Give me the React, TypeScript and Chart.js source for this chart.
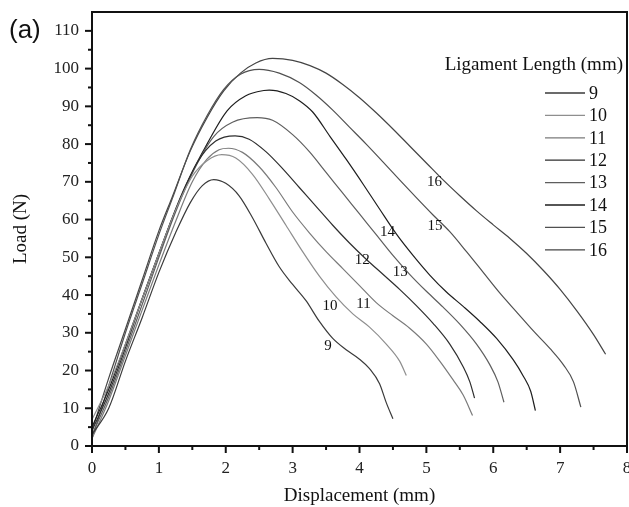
import React, { useEffect, useRef } from "react";
import { Chart, registerables } from "chart.js";

Chart.register(...registerables);

// Ligament lengths (mm)
const ligaments = ["9", "10", "11", "12", "13", "14", "15", "16"];
const lineColors = ["#3a3a3a", "#8e8e8e", "#7a7a7a", "#2e2e2e", "#5e5e5e", "#1e1e1e", "#505050", "#454545"];

// Displacement (mm) / Load (N) per ligament length
const disp9 = [0, 0.25, 0.5, 0.75, 1.0, 1.25, 1.47, 1.65, 1.82, 2.0, 2.2, 2.4, 2.6, 2.8, 3.0, 3.2, 3.4, 3.6, 3.8, 4.0, 4.15, 4.3, 4.4, 4.5];
const load9 = [3, 10, 22.5, 34, 46, 56.5, 64.5, 69, 70.6, 69.6, 66.3, 60.5, 53.8, 47.5, 42.8, 38.5, 33, 28.5, 25.5, 23, 20.5, 16.5, 11.5, 7.2];

const disp10 = [0, 0.25, 0.5, 0.75, 1.0, 1.25, 1.5, 1.72, 1.94, 2.15, 2.4, 2.65, 2.9, 3.15, 3.4, 3.65, 3.9, 4.15, 4.4, 4.6, 4.7];
const load10 = [7, 16, 27, 39, 51, 62.5, 71.5, 75.6, 77.2, 76.3, 72, 65.5, 58.5, 51.5, 45, 39.5, 35, 31.5, 27, 22.5, 18.7];

const disp11 = [0, 0.25, 0.5, 0.75, 1.0, 1.25, 1.5, 1.72, 1.9, 2.04, 2.25, 2.5, 2.75, 3.0, 3.25, 3.5, 3.75, 4.0, 4.25, 4.5, 4.75, 5.0, 5.2, 5.4, 5.55, 5.69];
const load11 = [2, 12, 24, 36, 48, 59.5, 70, 76, 78.5, 78.9, 77.8, 74, 68.5, 62, 56.5, 51.5, 47, 42.5, 38, 34.5, 31.2, 27, 22.5, 17.5, 13.5, 8.1];

const disp12 = [0, 0.25, 0.5, 0.75, 1.0, 1.25, 1.57, 1.85, 2.14, 2.35, 2.6, 2.85, 3.1, 3.35, 3.6, 3.85, 4.1, 4.35, 4.6, 4.85, 5.1, 5.35, 5.55, 5.65, 5.72];
const load12 = [4, 14, 26, 39, 51, 62.5, 75, 80.8, 82.2, 81.3, 78, 73.5, 68.5, 63.5, 58.5, 53.8, 49.5, 45.5, 41.5, 37.2, 32.5, 27, 21, 17, 12.7];

const disp13 = [0, 0.25, 0.5, 0.75, 1.0, 1.25, 1.52, 1.82, 2.1, 2.47, 2.7, 3.0, 3.25, 3.5, 3.75, 4.0, 4.25, 4.5, 4.75, 5.0, 5.25, 5.5, 5.75, 5.95, 6.07, 6.16];
const load13 = [3, 13, 25, 37.5, 50, 62, 73, 82, 85.8, 87, 86.3, 82.5, 78, 72.5, 67, 61.5, 56, 50.5, 45.5, 41, 36.8, 32.3, 27, 21.5, 17, 11.6];

const disp14 = [0, 0.25, 0.5, 0.75, 1.0, 1.2, 1.4, 1.72, 2.02, 2.3, 2.57, 2.65, 2.9, 3.1, 3.3, 3.56, 3.8, 4.05, 4.3, 4.55, 4.8, 5.05, 5.3, 5.55, 5.8, 6.05, 6.3, 6.45, 6.56, 6.63];
const load14 = [5, 15, 27, 39, 51, 60.5, 69, 80, 88.8, 92.8, 94.2, 94.3, 93.4, 91.5, 88.5, 82, 76, 69.5, 62.8, 56.2, 50.5, 45.3, 40.8, 37, 33, 28.5, 22.8, 18.5, 14.5, 9.4];

const disp15 = [0, 0.25, 0.5, 0.75, 1.0, 1.2, 1.47, 1.72, 1.97, 2.22, 2.5, 2.8, 3.1, 3.35, 3.6, 3.85, 4.1, 4.35, 4.6, 4.85, 5.1, 5.35, 5.6, 5.85, 6.1, 6.35, 6.6, 6.85, 7.05, 7.2, 7.31];
const load15 = [2, 16, 30, 43, 56, 65.5, 78.5, 87.5, 94.5, 98.5, 99.8, 98.8, 96.3, 93, 89, 84.5, 80, 75.3, 70.5, 65.8, 61.2, 56.8, 51.5, 46, 40.5, 35.5, 30.5, 25.8, 21.5, 17, 10.3];

const disp16 = [0, 0.25, 0.5, 0.75, 1.0, 1.2, 1.47, 1.72, 1.97, 2.22, 2.45, 2.7, 3.0, 3.26, 3.5, 3.75, 4.0, 4.25, 4.5, 4.75, 5.0, 5.25, 5.5, 5.75, 6.0, 6.25, 6.5, 6.75, 7.0, 7.25, 7.5, 7.68];
const load16 = [4, 18, 31, 44, 57, 66, 78.2, 87, 94.1, 98.8, 101.5, 102.7, 102.2, 100.8, 98.8, 95.8, 92.3, 88.3, 84, 79.5, 75, 70.5, 66.3, 62.3, 58.6, 55, 51, 46.5, 41.5, 35.8, 29.5, 24.3];

const dispSeries = [disp9, disp10, disp11, disp12, disp13, disp14, disp15, disp16];
const loadSeries = [load9, load10, load11, load12, load13, load14, load15, load16];

// Curve label anchor positions (data coordinates)
const labelDisp = [3.53, 3.56, 4.06, 4.04, 4.61, 4.42, 5.13, 5.12];
const labelLoad = [26.5, 37.2, 37.6, 49.2, 46.2, 56.6, 58.4, 70.0];

const xTickLabels = ["0", "1", "2", "3", "4", "5", "6", "7", "8"];

const SERIF = "'Liberation Serif', 'Times New Roman', serif";

const decorPlugin = {
  id: "decor",
  afterDraw(chart: any) {
    const ctx = chart.ctx;
    const area = chart.chartArea;
    const xs = chart.scales.x;
    const ys = chart.scales.y;
    ctx.save();
    // frame
    ctx.strokeStyle = "#111";
    ctx.lineWidth = 2;
    ctx.strokeRect(area.left, area.top, area.right - area.left, area.bottom - area.top);
    // x ticks (major + minor)
    for (let v = 0; v <= 8.0001; v += 0.5) {
      const px = xs.getPixelForValue(v);
      const major = Math.abs(v - Math.round(v)) < 1e-6;
      ctx.beginPath();
      ctx.moveTo(px, area.bottom);
      ctx.lineTo(px, area.bottom + (major ? 7 : 4));
      ctx.stroke();
    }
    for (let v = 0; v <= 110.0001; v += 5) {
      const py = ys.getPixelForValue(v);
      const major = v % 10 === 0;
      ctx.beginPath();
      ctx.moveTo(area.left, py);
      ctx.lineTo(area.left - (major ? 7 : 4), py);
      ctx.stroke();
    }
    // curve labels
    ctx.fillStyle = "#111";
    ctx.font = "15px " + SERIF;
    ctx.textAlign = "center";
    ctx.textBaseline = "middle";
    ligaments.forEach((name, i) => {
      ctx.fillText(name, xs.getPixelForValue(labelDisp[i]), ys.getPixelForValue(labelLoad[i]));
    });
    // legend
    const right = area.right;
    ctx.font = "19px " + SERIF;
    ctx.textAlign = "right";
    ctx.fillText("Ligament Length (mm)", right - 4, area.top + 53);
    ctx.font = "18px " + SERIF;
    ctx.textAlign = "left";
    ligaments.forEach((name, i) => {
      const y = area.top + 81 + i * 22.4;
      ctx.strokeStyle = lineColors[i];
      ctx.lineWidth = 1.3;
      ctx.beginPath();
      ctx.moveTo(right - 82, y);
      ctx.lineTo(right - 42, y);
      ctx.stroke();
      ctx.fillText(name, right - 38, y + 1);
    });
    // panel label
    ctx.font = "26px 'Liberation Sans', Arial, sans-serif";
    ctx.textAlign = "left";
    ctx.fillText("(a)", 9, 31);
    ctx.restore();
  },
};

export default function App() {
  const canvasRef = useRef<HTMLCanvasElement | null>(null);

  useEffect(() => {
    const canvas = canvasRef.current;
    if (!canvas) return;
    const datasets = ligaments.map((name, i) => ({
      label: name,
      data: dispSeries[i].map((d, j) => ({ x: d, y: loadSeries[i][j] })),
      showLine: true,
      borderColor: lineColors[i],
      borderWidth: 1.2,
      pointRadius: 0,
      cubicInterpolationMode: "monotone" as const,
      fill: false,
    }));
    const chart = new Chart(canvas, {
      type: "scatter",
      data: { datasets },
      options: {
        animation: false,
        responsive: false,
        maintainAspectRatio: false,
        layout: { padding: { left: 0, right: 2, top: 12, bottom: 0 } },
        plugins: { legend: { display: false }, tooltip: { enabled: false } },
        scales: {
          x: {
            type: "linear",
            min: 0,
            max: 8,
            grid: { display: false, drawTicks: false },
            border: { display: false },
            ticks: {
              stepSize: 1,
              padding: 12,
              color: "#222",
              font: { family: SERIF, size: 17 },
              callback: (v: any) => xTickLabels[Math.round(Number(v))] ?? "",
            },
            title: {
              display: true,
              text: "Displacement (mm)",
              color: "#111",
              font: { family: SERIF, size: 19 },
              padding: { top: 4, bottom: 0 },
            },
            afterFit: (s: any) => {
              s.height = 61;
              s.paddingLeft = 0;
              s.paddingRight = 0;
            },
          },
          y: {
            type: "linear",
            min: 0,
            max: 115,
            grid: { display: false, drawTicks: false },
            border: { display: false },
            ticks: {
              stepSize: 10,
              includeBounds: false,
              padding: 13,
              color: "#222",
              font: { family: SERIF, size: 17 },
            },
            title: {
              display: true,
              text: "Load (N)",
              color: "#111",
              font: { family: SERIF, size: 19 },
              padding: { top: 10, bottom: 0 },
            },
            afterFit: (s: any) => {
              s.width = 92;
              s.paddingTop = 0;
              s.paddingBottom = 0;
            },
          },
        },
      },
      plugins: [decorPlugin],
    });
    return () => chart.destroy();
  }, []);

  return (
    <div style={{ position: "fixed", left: 0, top: 0, width: 629, height: 507, background: "#fff" }}>
      <canvas ref={canvasRef} width={629} height={507} style={{ width: 629, height: 507, display: "block" }} />
    </div>
  );
}
